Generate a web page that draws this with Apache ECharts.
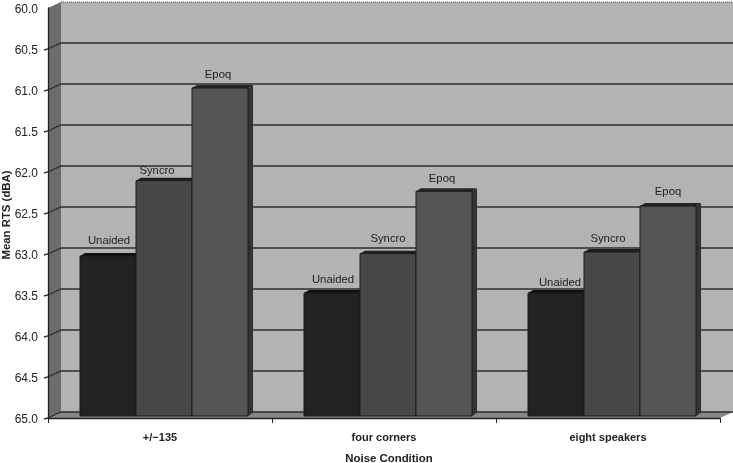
<!DOCTYPE html>
<html>
<head>
<meta charset="utf-8">
<style>html,body{margin:0;padding:0;background:#fff}#c{width:733px;height:463px;filter:blur(0.45px)}</style>
<script src="https://cdn.jsdelivr.net/npm/echarts@6/dist/echarts.min.js"></script>
</head>
<body>
<div id="c"></div>
<script>
const categories = ['+/\u2212135', 'four corners', 'eight speakers'];
const seriesNames = ['Unaided', 'Syncro', 'Epoq'];
const unaided = [63.05, 63.5, 63.5];
const syncro = [62.13, 63.02, 63.0];
const epoq = [61.0, 62.26, 62.44];
const yTicks = [60, 60.5, 61, 61.5, 62, 62.5, 63, 63.5, 64, 64.5, 65];

const DX = 13, DY = 6;
const chart = echarts.init(document.getElementById('c'));

function wallItem(params) {
  const g = params.coordSys;
  const L = g.x, R = g.x + g.width, T = g.y, B = g.y + g.height;
  const poly = (pts, fill, stroke) => ({type:'polygon', shape:{points:pts}, style:{fill, stroke: stroke||'none', lineWidth:1}});
  return {type:'group', children:[
    poly([[L+DX,T-DY],[R+DX,T-DY],[R+DX,B-DY],[L+DX,B-DY]], '#b3b3b3'),
    poly([[L,T],[L+DX,T-DY],[L+DX,B-DY],[L,B]], '#6c6c6c'),
    poly([[L,B],[L+DX,B-DY],[R+DX,B-DY],[R,B]], '#878787'),
    {type:'polyline', shape:{points:[[L+DX,T-DY],[R+DX,T-DY]]}, style:{stroke:'#444', lineWidth:1, lineDash:[1,1], fill:'none'}}
  ]};
}

function gridItem(params, api) {
  const v = api.value(0);
  const p = api.coord([0, v]);
  const g = params.coordSys;
  const y = Math.round(p[1]);
  return {type:'polyline', shape:{points:[[g.x-4,y+1],[g.x,y],[g.x+DX,y-DY],[g.x+g.width+DX,y-DY]]},
    style:{stroke:'#2e2e2e', lineWidth: 1.3, fill:'none', opacity: v===60 ? 0 : 1}};
}

const faceColors = ['#232323', '#484848', '#555555'];
const sideColors = ['#161616', '#2b2b2b', '#333333'];
const topColors = ['#111111', '#1d1d1d', '#262626'];
const labelNudgeX = [[1, -7, -2], [1, 0, -2], [4, -4, 0]];
const labelGap = [[10, 4, 8], [8, 9, 7], [5, 8, 9]];

function barRenderer(idx) {
  return function (params, api) {
    const cat = api.value(0), val = api.value(1);
    const band = api.size([1, 0])[0];
    const w = band * 0.25;
    const c = api.coord([cat, val]);
    const base = api.coord([cat, 65]);
    const x0 = c[0] + 4 + (idx - 1.5) * w;
    const x1 = x0 + w;
    const yTop = c[1] - 2, yBot = base[1] - 2;
    const dx = 5, dy = 3;
    return {type:'group', children:[
      {type:'polygon', shape:{points:[[x1,yTop],[x1+dx,yTop-dy],[x1+dx,yBot-dy],[x1,yBot]]}, style:{fill:sideColors[idx]}},
      {type:'polygon', shape:{points:[[x0,yTop],[x0+dx,yTop-dy],[x1+dx,yTop-dy],[x1,yTop]]}, style:{fill:topColors[idx]}},
      {type:'rect', shape:{x:x0,y:yTop,width:w,height:yBot-yTop}, style:{fill:faceColors[idx], stroke:'#1a1a1a', lineWidth:1}},
      {type:'text', x:(x0+x1)/2+labelNudgeX[cat][idx], y:yTop-labelGap[cat][idx], style:{text:seriesNames[idx], fill:'#222', font:'11.3px "Liberation Sans"', textAlign:'center', textVerticalAlign:'bottom'}, z2:10}
    ]};
  };
}

const barSeries = [unaided, syncro, epoq].map((vals, idx) => ({
  type:'custom', name:seriesNames[idx], z:4 + idx, clip:false,
  renderItem: barRenderer(idx),
  encode:{x:0, y:1},
  data: vals.map((v, i) => [i, v])
}));

chart.setOption({
  animation:false,
  backgroundColor:'#ffffff',
  grid:{left:48, top:8, width:672, height:410, containLabel:false, outerBoundsMode:'none'},
  xAxis:{type:'category', data:categories, position:'bottom', z:6,
    name:'Noise Condition', nameLocation:'middle', nameGap:35, nameMoveOverlap:false,
    nameTextStyle:{fontFamily:'Liberation Sans', fontWeight:'bold', fontSize:11.4, color:'#222', padding:[0,0,0,10]},
    axisLine:{onZero:false, lineStyle:{color:'#222', width:1.3}},
    axisTick:{show:true, alignWithLabel:false, length:5, lineStyle:{color:'#222'}},
    axisLabel:{fontFamily:'Liberation Sans', fontWeight:'bold', fontSize:11, color:'#222', margin:14},
    splitLine:{show:false}},
  yAxis:{type:'value', min:60, max:65, interval:0.5, inverse:true, z:6,
    name:'Mean RTS (dBA)', nameLocation:'middle', nameGap:36, nameRotate:90, nameMoveOverlap:false,
    nameTextStyle:{fontFamily:'Liberation Sans', fontWeight:'bold', fontSize:11.4, color:'#222', padding:[0,4,0,0]},
    axisLine:{show:true, onZero:false, lineStyle:{color:'#222', width:1.3}},
    axisTick:{show:false},
    axisLabel:{fontFamily:'Liberation Sans', fontSize:12, color:'#222', margin:10, verticalAlign:'top', lineHeight:4,
      showMinLabel:true, showMaxLabel:true, formatter:v => v.toFixed(1)},
    splitLine:{show:false}},
  series:[
    {type:'custom', z:1, clip:false, silent:true, renderItem:wallItem, encode:{x:0,y:1}, data:[[0,60]]},
    {type:'custom', z:2, clip:false, silent:true, renderItem:gridItem, encode:{y:0}, data:yTicks.map(v => [v])},
    ...barSeries
  ]
});
</script>
</body>
</html>
